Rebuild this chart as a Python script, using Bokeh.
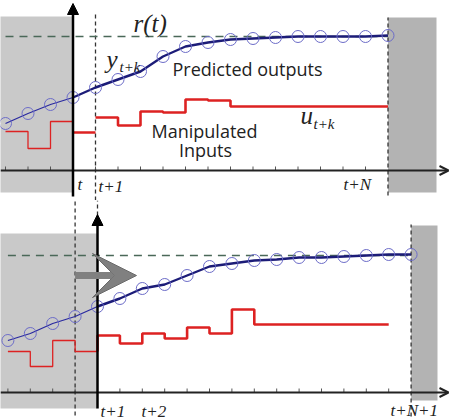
from bokeh.plotting import figure
from bokeh.layouts import column
from bokeh.models import Arrow, OpenHead, NormalHead, VeeHead, Range1d
from bokeh.core.properties import value
from bokeh.embed import file_html
from bokeh.resources import INLINE

# ---------------- data (time steps relative to t) ----------------
# top panel: prediction made at time t, horizon N = 14
top_out_k = list(range(-3, 15))
top_out_y = [4.7, 5.7, 6.6, 7.3, 8.3, 9.1, 9.9, 11.4, 12.4, 12.8,
             13.1, 13.2, 13.3, 13.4, 13.4, 13.4, 13.4, 13.5]
top_ref = 13.4
top_u_past_k = [-3, -2, -1]
top_u_past = [3.9, 2.2, 4.9]
top_u_now = 3.8
top_u_fut_k = list(range(1, 14))
top_u_fut = [5.3, 4.5, 5.9, 5.8, 7.1, 7.0, 6.4, 6.4, 6.4, 6.4, 6.4, 6.4, 6.4]
top_N = 14

# bottom panel: prediction made at time t+1 (receding horizon)
bot_out_k = list(range(-3, 16))
bot_out_y = [5.2, 5.9, 6.9, 7.6, 8.6, 9.4, 10.4, 10.8, 11.7, 12.6,
             12.9, 13.2, 13.3, 13.5, 13.5, 13.6, 13.7, 13.8, 13.8]
bot_ref = 13.7
bot_u_past_k = [-3, -2, -1, 0]
bot_u_past = [4.1, 2.6, 5.2, 4.1]
bot_u_fut_k = list(range(1, 14))
bot_u_fut = [5.7, 4.9, 5.9, 5.4, 6.5, 5.9, 8.3, 6.8, 6.8, 6.8, 6.8, 6.8, 6.8]
bot_end = 15

# ---------------- styling ----------------
W = 451
LINE_THICK = "#1c1c78"
LINE_THIN = "#2a2aa0"
CIRC = "#6c6cc8"
RED = "#dd2222"
REF = "#4a6858"
GRAY_L = "#c9c9c9"
GRAY_R = "#b3b3b3"
TXT = "#222222"
SERIF = value("Liberation Serif")
SANS = value("Open Sans")


def make_fig(h, x0, x1, y0, y1):
    p = figure(width=W, height=h, output_backend="svg", toolbar_location=None,
               x_range=Range1d(x0, x1), y_range=Range1d(y0, y1),
               min_border=0, x_axis_location=None, y_axis_location=None)
    p.grid.visible = False
    p.outline_line_color = None
    p.background_fill_color = "white"
    return p


def step_xy(ks, vals, end):
    return list(ks) + [end], list(vals) + [vals[-1]]


# =================== TOP PANEL ===================
# pixel mapping: x = 72.5 + 22.5*k ; y = 170 - 10*v
tx = lambda px: (px - 72.5) / 22.5
ty = lambda py: (170 - py) / 10.0
top = make_fig(200, tx(0), tx(W), ty(200), ty(0))

# shaded regions
top.quad(left=tx(-5), right=0, bottom=ty(192), top=ty(16), fill_color=GRAY_L, line_color=None)
top.quad(left=top_N, right=tx(436), bottom=ty(192), top=ty(17), fill_color=GRAY_R, line_color=None)

# dashed verticals
top.segment(x0=[1, top_N], y0=[ty(200), ty(195)], x1=[1, top_N], y1=[ty(12), ty(17)],
            line_color="#333333", line_width=1.3, line_dash="4 3")
# reference
top.line([top_out_k[0], top_N], [top_ref, top_ref], line_color=REF, line_width=1.5, line_dash="8 6")

# axes
top.add_layout(Arrow(end=OpenHead(size=9, line_width=2, line_color=TXT),
                     x_start=tx(0), y_start=0, x_end=tx(448), y_end=0,
                     line_width=2, line_color=TXT))
top.segment(x0=list(range(-3, top_N)), y0=0, x1=list(range(-3, top_N)), y1=0.4,
            line_color="#555555", line_width=1)
top.add_layout(Arrow(end=NormalHead(size=11, fill_color="black", line_color="black"),
                     x_start=0, y_start=ty(196), x_end=0, y_end=ty(3),
                     line_width=2.5, line_color="black"))

# inputs
xs, ys = step_xy(top_u_past_k, top_u_past, 0)
top.step(xs, ys, mode="after", line_color=RED, line_width=1.3)
top.line([0, 1], [top_u_now, top_u_now], line_color=RED, line_width=2.6)
xs, ys = step_xy(top_u_fut_k, top_u_fut, top_N)
top.step(xs, ys, mode="after", line_color=RED, line_width=2.6)

# outputs
top.line(top_out_k[:4], top_out_y[:4], line_color=LINE_THIN, line_width=1.3)
top.line(top_out_k[3:], top_out_y[3:], line_color=LINE_THICK, line_width=2.4)
top.scatter(top_out_k, top_out_y, marker="circle", size=12, fill_color=None,
            line_color=CIRC, line_width=1)

# texts
top.text(x=[tx(133)], y=[ty(23)], text=["r(t)"], text_font=SERIF, text_font_style="italic",
         text_font_size="25px", text_baseline="middle", text_color=TXT)
top.text(x=[tx(106)], y=[ty(59)], text=["y"], text_font=SERIF, text_font_style="italic",
         text_font_size="25px", text_baseline="middle", text_color=TXT)
top.text(x=[tx(119)], y=[ty(66)], text=["t+k"], text_font=SERIF, text_font_style="italic",
         text_font_size="15px", text_baseline="middle", text_color=TXT)
top.text(x=[tx(300)], y=[ty(115)], text=["u"], text_font=SERIF, text_font_style="italic",
         text_font_size="25px", text_baseline="middle", text_color=TXT)
top.text(x=[tx(313)], y=[ty(123)], text=["t+k"], text_font=SERIF, text_font_style="italic",
         text_font_size="15px", text_baseline="middle", text_color=TXT)
top.text(x=[tx(172)], y=[ty(68)], text=["Predicted outputs"], text_font=SANS,
         text_font_size="18px", text_baseline="middle", text_color=TXT)
top.text(x=[tx(204), tx(205)], y=[ty(130), ty(149)], text=["Manipulated", "Inputs"],
         text_font=SANS, text_font_size="18px", text_baseline="middle",
         text_align="center", text_color=TXT)
top.text(x=[tx(77), tx(98), tx(343)], y=[ty(184), ty(186), ty(184)],
         text=["t", "t+1", "t+N"], text_font=SERIF, text_font_style="italic",
         text_font_size="17px", text_baseline="middle", text_color=TXT)

# =================== BOTTOM PANEL ===================
# pixel mapping: x = 97 + 22.4*(k-1) ; y(page) = 392 - 10*v  (panel starts at page y=200)
bx = lambda px: 1 + (px - 97) / 22.4
by = lambda py: (392 - py) / 10.0
bot = make_fig(220, bx(0), bx(W), by(420), by(200))

bot.quad(left=bx(-5), right=1, bottom=by(408), top=by(233), fill_color=GRAY_L, line_color=None)
bot.quad(left=bot_end, right=bx(437), bottom=by(400), top=by(225), fill_color=GRAY_R, line_color=None)

bot.segment(x0=[0, 1, bot_end], y0=[by(415), by(215), by(416)],
            x1=[0, 1, bot_end], y1=[by(200), by(200), by(224)],
            line_color="#333333", line_width=1.3, line_dash="4 3")
bot.line([bot_out_k[0], bot_end], [bot_ref, bot_ref], line_color=REF, line_width=1.5, line_dash="8 6")

bot.add_layout(Arrow(end=OpenHead(size=9, line_width=2, line_color=TXT),
                     x_start=bx(0), y_start=0, x_end=bx(448), y_end=0,
                     line_width=2, line_color=TXT))
bot.segment(x0=list(range(-3, bot_end)), y0=0, x1=list(range(-3, bot_end)), y1=0.4,
            line_color="#555555", line_width=1)
bot.add_layout(Arrow(end=NormalHead(size=11, fill_color="black", line_color="black"),
                     x_start=1, y_start=by(408), x_end=1, y_end=by(214),
                     line_width=2.5, line_color="black"))

# receding-horizon shift arrow
bot.add_layout(Arrow(end=VeeHead(size=44, fill_color="#808080", line_color="#6a6a6a", line_width=1),
                     x_start=0, y_start=by(275), x_end=bx(136), y_end=by(275),
                     line_width=7, line_color="#808080"))

xs, ys = step_xy(bot_u_past_k, bot_u_past, 1)
bot.step(xs, ys, mode="after", line_color=RED, line_width=1.3)
xs, ys = step_xy([1] + bot_u_fut_k, [bot_u_past[-1]] + bot_u_fut, 14)
bot.step(xs, ys, mode="after", line_color=RED, line_width=2.6)

bot.line(bot_out_k[:5], bot_out_y[:5], line_color=LINE_THIN, line_width=1.3)
bot.line(bot_out_k[4:], bot_out_y[4:], line_color=LINE_THICK, line_width=2.4)
bot.scatter(bot_out_k, bot_out_y, marker="circle", size=12, fill_color=None,
            line_color=CIRC, line_width=1)

bot.text(x=[bx(100), bx(141), bx(390)], y=[by(411), by(411), by(410)],
         text=["t+1", "t+2", "t+N+1"], text_font=SERIF, text_font_style="italic",
         text_font_size="17px", text_baseline="middle", text_color=TXT)

layout = column(top, bot, spacing=0)
open("out.html", "w").write(file_html(layout, INLINE))
